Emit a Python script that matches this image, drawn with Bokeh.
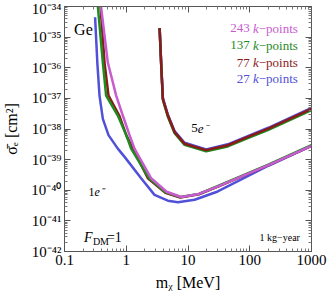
from bokeh.plotting import figure
from bokeh.models import (LogAxis, FixedTicker, CustomJSTickFormatter, Label, Range1d)
from bokeh.embed import file_html
from bokeh.resources import INLINE

# ---------------- data ----------------
# 1 electron threshold curves: mass [MeV], log10(sigma_e [cm^2])
m_1e_27 = [0.313, 0.34, 0.369, 0.418, 0.516, 0.73, 0.94, 1.74, 2.87, 4.72, 6.86, 12.8, 30.3, 200, 1000]
s_1e_27 = [-34.35, -35.83, -36.91, -37.67, -38.2, -38.64, -38.91, -39.61, -40.15, -40.34, -40.39, -40.31, -40.04, -39.2, -38.55]

m_1e_77 = [0.383, 0.445, 0.516, 0.77, 1.0, 1.28, 2.24, 4.3, 7.5, 15, 30, 200, 1000]
s_1e_77 = [-34.0, -35.83, -36.91, -37.56, -38.2, -38.64, -39.61, -40.08, -40.24, -40.13, -39.89, -39.18, -38.55]

m_1e_137 = [0.347, 0.418, 0.472, 0.73, 1.0, 1.2, 2.35, 4.3, 7.5, 15, 30, 200, 1000]
s_1e_137 = [-34.0, -35.83, -36.91, -37.56, -38.2, -38.64, -39.61, -40.06, -40.22, -40.12, -39.87, -39.16, -38.53]

m_1e_243 = [0.39, 0.503, 0.687, 0.88, 1.13, 1.36, 2.53, 4.5, 7.8, 15, 30, 200, 1000]
s_1e_243 = [-34.0, -35.83, -36.91, -37.56, -38.2, -38.64, -39.61, -40.05, -40.22, -40.12, -39.88, -39.18, -38.55]

# 5 electron threshold curves
m_5e = [3.47, 3.7, 3.92, 4.72, 6.07, 8.8, 19.7, 44, 93, 200, 1000]
s_5e_243 = [-34.70, -36.0, -37.02, -37.56, -38.10, -38.48, -38.69, -38.53, -38.26, -37.99, -37.34]
s_5e_137 = [-34.70, -36.0, -37.05, -37.60, -38.14, -38.52, -38.73, -38.57, -38.30, -38.03, -37.38]
s_5e_77 = [-34.70, -36.0, -37.02, -37.56, -38.10, -38.48, -38.69, -38.53, -38.26, -37.99, -37.34]
s_5e_27 = [-34.70, -35.97, -36.99, -37.53, -38.07, -38.45, -38.67, -38.50, -38.23, -37.96, -37.31]

x_ticks = [0.1, 1, 10, 100, 1000]
y_ticks = [1e-42, 1e-41, 1e-40, 1e-39, 1e-38, 1e-37, 1e-36, 1e-35, 1e-34]

kpoints = ["243", "137", "77", "27"]

PINK = "#C85BCF"
GREEN = "#1F8A1F"
RED = "#8B1A1A"
BLUE = "#5050D8"
colors = {"243": PINK, "137": GREEN, "77": RED, "27": BLUE}

FONT = "Liberation Serif"

# ---------------- figure ----------------
p = figure(x_axis_type="log", y_axis_type="log",
           x_range=Range1d(0.1, 1000), y_range=Range1d(1e-42, 1e-34),
           frame_width=247, frame_height=245,
           min_border_left=59, min_border_right=18, min_border_top=6, min_border_bottom=36,
           output_backend="svg", toolbar_location=None)
p.xgrid.visible = False
p.ygrid.visible = False
p.outline_line_color = "#555555"
p.outline_line_width = 1
p.background_fill_color = "white"
p.border_fill_color = "white"

x_minor = [k * 10.0 ** e for e in range(-1, 3) for k in range(2, 10)]
y_minor = [k * 10.0 ** e for e in range(-42, -34) for k in range(2, 10)]

xt = FixedTicker(ticks=x_ticks, minor_ticks=x_minor)
yt = FixedTicker(ticks=y_ticks, minor_ticks=y_minor)

sup_code = """
const s = {"0":"\u2070","1":"\u00b9","2":"\u00b2","3":"\u00b3","4":"\u2074","5":"\u2075","6":"\u2076","7":"\u2077","8":"\u2078","9":"\u2079","-":"\u207b"};
const e = Math.round(Math.log10(tick));
return "10" + String(e).split("").map(c => s[c]).join("");
"""
xfmt = CustomJSTickFormatter(code="""
if (tick < 1) { return tick.toString(); }
return Math.round(tick).toString();
""")

for ax in [p.xaxis[0], p.yaxis[0]]:
    ax.major_tick_in = 6
    ax.major_tick_out = 0
    ax.minor_tick_in = 3
    ax.minor_tick_out = 0
    ax.axis_line_color = "#555555"
    ax.major_tick_line_color = "#555555"
    ax.minor_tick_line_color = "#777777"
    ax.major_label_text_font = FONT
    ax.major_label_text_font_size = "15px"
    ax.major_label_text_color = "black"
    ax.axis_label_text_font = FONT
    ax.axis_label_text_font_size = "16px"
    ax.axis_label_text_font_style = "normal"
    ax.axis_label_text_color = "black"

p.xaxis[0].ticker = xt
p.xaxis[0].formatter = xfmt
p.xaxis[0].major_label_standoff = 3
p.xaxis[0].axis_label = "m\u1d6a [MeV]"
p.xaxis[0].axis_label_standoff = 6

p.yaxis[0].ticker = yt
p.yaxis[0].formatter = CustomJSTickFormatter(code=sup_code)
p.yaxis[0].major_label_standoff = 3
p.yaxis[0].axis_label = "\u03c3\u0304\u2091 [cm\u00b2]"
p.yaxis[0].axis_label_standoff = 8

empty = CustomJSTickFormatter(code="return '';")
top_ax = LogAxis(ticker=FixedTicker(ticks=x_ticks, minor_ticks=x_minor), formatter=empty,
                 major_tick_in=6, major_tick_out=0, minor_tick_in=3, minor_tick_out=0,
                 major_label_standoff=0, axis_line_color="#555555",
                 major_tick_line_color="#555555", minor_tick_line_color="#777777",
                 major_label_text_font_size="1px")
right_ax = LogAxis(ticker=FixedTicker(ticks=y_ticks, minor_ticks=y_minor), formatter=empty,
                   major_tick_in=6, major_tick_out=0, minor_tick_in=3, minor_tick_out=0,
                   major_label_standoff=0, axis_line_color="#555555",
                   major_tick_line_color="#555555", minor_tick_line_color="#777777",
                   major_label_text_font_size="1px")
p.add_layout(top_ax, "above")
p.add_layout(right_ax, "right")

LW = 2.5


def pw(v):
    return [10.0 ** a for a in v]


# 5e- curves
p.line(m_5e, pw(s_5e_243), line_color=PINK, line_width=LW)
p.line(m_5e, pw(s_5e_27), line_color=BLUE, line_width=LW)
p.line(m_5e, pw(s_5e_137), line_color=GREEN, line_width=LW)
p.line(m_5e, pw(s_5e_77), line_color=RED, line_width=LW)

# 1e- curves
p.line(m_1e_27, pw(s_1e_27), line_color=BLUE, line_width=LW)
p.line(m_1e_77, pw(s_1e_77), line_color=RED, line_width=LW)
p.line(m_1e_137, pw(s_1e_137), line_color=GREEN, line_width=LW)
p.line(m_1e_243, pw(s_1e_243), line_color=PINK, line_width=LW)


def lab(x, y, text, size, style="normal", color="black", align="left", xo=0, yo=0):
    p.add_layout(Label(x=x, y=y, text=text, text_font=FONT, text_font_size=size,
                       text_font_style=style, text_color=color, text_align=align,
                       text_baseline="middle", x_offset=xo, y_offset=yo))


lab(0.143, 10 ** -34.74, "Ge", "16px")
lab(0.245, 10 ** -40.05, "1", "12px")
lab(0.245, 10 ** -40.05, "e\u207b", "12px", style="italic", xo=6)
lab(11.3, 10 ** -37.98, "5", "13px")
lab(11.3, 10 ** -37.98, "e\u207b", "13px", style="italic", xo=6.5)
lab(0.206, 10 ** -41.54, "F", "14px", style="italic")
lab(0.206, 10 ** -41.54, "DM", "10px", xo=9, yo=-4)
lab(0.206, 10 ** -41.54, "=1", "14px", xo=23)
lab(650, 10 ** -41.54, "1 kg\u2212year", "10px", align="right")

leg_y = [-34.71, -35.26, -35.84, -36.36]
for kp, ly in zip(kpoints, leg_y):
    c = colors[kp]
    lab(600, 10 ** ly, "\u2212points", "13px", color=c, align="right")
    lab(600, 10 ** ly, "k", "13px", style="italic", color=c, align="right", xo=-39)
    lab(600, 10 ** ly, kp, "13px", color=c, align="right", xo=-48)

open("out.html", "w").write(file_html(p, INLINE))
